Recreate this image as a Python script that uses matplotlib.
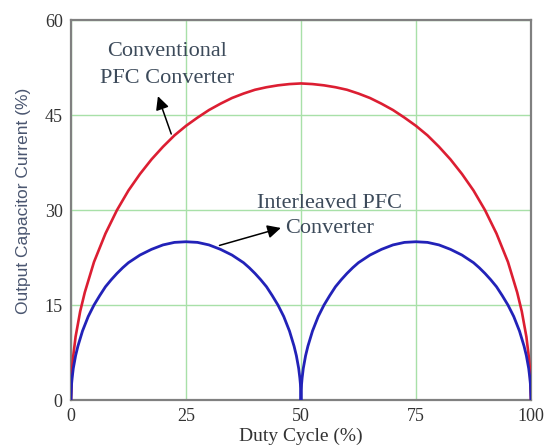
import matplotlib
matplotlib.use("Agg")
import matplotlib.pyplot as plt

# valores (duty cycle em %, corrente em %)
conv_x = [0, 0.25, 0.5, 1, 2, 3, 5, 7.5, 10, 12.5, 15, 17.5, 20, 22.5, 25, 27.5, 30, 32.5, 35, 37.5, 40, 42.5, 45, 47.5, 50,
          52.5, 55, 57.5, 60, 62.5, 65, 67.5, 70, 72.5, 75, 77.5, 80, 82.5, 85, 87.5, 90, 92.5, 95, 97, 98, 99, 99.5, 99.75, 100]
conv_y = [0, 5, 7, 10, 14, 17, 21.8, 26.3, 30, 33.1, 35.7, 38, 40, 41.8, 43.3, 44.6, 45.8, 46.8, 47.7, 48.4, 49, 49.4, 49.7, 49.9, 50,
          49.9, 49.7, 49.4, 49, 48.4, 47.7, 46.8, 45.8, 44.6, 43.3, 41.8, 40, 38, 35.7, 33.1, 30, 26.3, 21.8, 17, 14, 10, 7, 5, 0]

inter_x = [0, 0.125, 0.25, 0.5, 1, 1.5, 2.5, 3.75, 5, 6.25, 7.5, 8.75, 10, 11.25, 12.5, 15, 17.5, 20, 22.5, 25,
           27.5, 30, 32.5, 35, 37.5, 38.75, 40, 41.25, 42.5, 43.75, 45, 46.25, 47.5, 48.5, 49, 49.5, 49.75, 49.875, 50,
           50.125, 50.25, 50.5, 51, 51.5, 52.5, 53.75, 55, 56.25, 57.5, 58.75, 60, 61.25, 62.5, 65, 67.5, 70, 72.5, 75,
           77.5, 80, 82.5, 85, 87.5, 88.75, 90, 91.25, 92.5, 93.75, 95, 96.25, 97.5, 98.5, 99, 99.5, 99.75, 99.875, 100]
inter_y = [0, 2.5, 3.5, 5, 7, 8.5, 10.9, 13.2, 15, 16.5, 17.9, 19, 20, 20.9, 21.7, 22.9, 23.8, 24.5, 24.9, 25,
           24.9, 24.5, 23.8, 22.9, 21.7, 20.9, 20, 19, 17.9, 16.5, 15, 13.2, 10.9, 8.5, 7, 5, 3.5, 2.5, 0,
           2.5, 3.5, 5, 7, 8.5, 10.9, 13.2, 15, 16.5, 17.9, 19, 20, 20.9, 21.7, 22.9, 23.8, 24.5, 24.9, 25,
           24.9, 24.5, 23.8, 22.9, 21.7, 20.9, 20, 19, 17.9, 16.5, 15, 13.2, 10.9, 8.5, 7, 5, 3.5, 2.5, 0]

x_ticks = [0, 25, 50, 75, 100]
y_ticks = [0, 15, 30, 45, 60]

serif = ['Liberation Serif', 'DejaVu Serif']
txt_color = '#3c4a5a'

fig = plt.figure(figsize=(5.46, 4.47), dpi=100)
ax = fig.add_axes([0.130, 0.105, 0.8425, 0.850])

ax.plot(conv_x, conv_y, color='#dc1e32', lw=1.9, zorder=3)
ax.plot(inter_x, inter_y, color='#2222b8', lw=2.0, zorder=3)

ax.set_xlim(0, 100)
ax.set_ylim(0, 60)
ax.set_xticks(x_ticks)
ax.set_yticks(y_ticks)
ax.set_xticklabels([str(v) for v in x_ticks], family=serif, fontsize=13, color='#333333')
ax.set_yticklabels([str(v) for v in y_ticks], family=serif, fontsize=13, color='#333333')
ax.tick_params(length=0, pad=6)
ax.grid(True, color='#a8e0a8', lw=1.0)
ax.set_axisbelow(True)
for s in ax.spines.values():
    s.set_color('#808080')
    s.set_linewidth(1.6)

ax.set_xlabel("Duty Cycle (%)", family=serif, fontsize=14, color='#333333', labelpad=2)
ax.set_ylabel("Output Capacitor Current (%)", family=['Liberation Sans', 'DejaVu Sans'], fontsize=12.5,
              color='#4a5670')
ax.yaxis.set_label_coords(-0.087, 0.525)

# textos e setas
ax.text(20.9, 52.9, "Conventional\nPFC Converter", family=serif, fontsize=16, color=txt_color,
        ha='center', va='center', linespacing=1.55)
ax.annotate("", xy=(18.7, 48.4), xytext=(22.0, 41.6),
            arrowprops=dict(arrowstyle='-|>', color='black', lw=1.1, mutation_scale=20))
ax.text(56.3, 29.1, "Interleaved PFC\nConverter", family=serif, fontsize=16, color=txt_color,
        ha='center', va='center', linespacing=1.4)
ax.annotate("", xy=(46.2, 27.3), xytext=(31.7, 24.3),
            arrowprops=dict(arrowstyle='-|>', color='black', lw=1.1, mutation_scale=20))

fig.savefig("out.png", dpi=100)
